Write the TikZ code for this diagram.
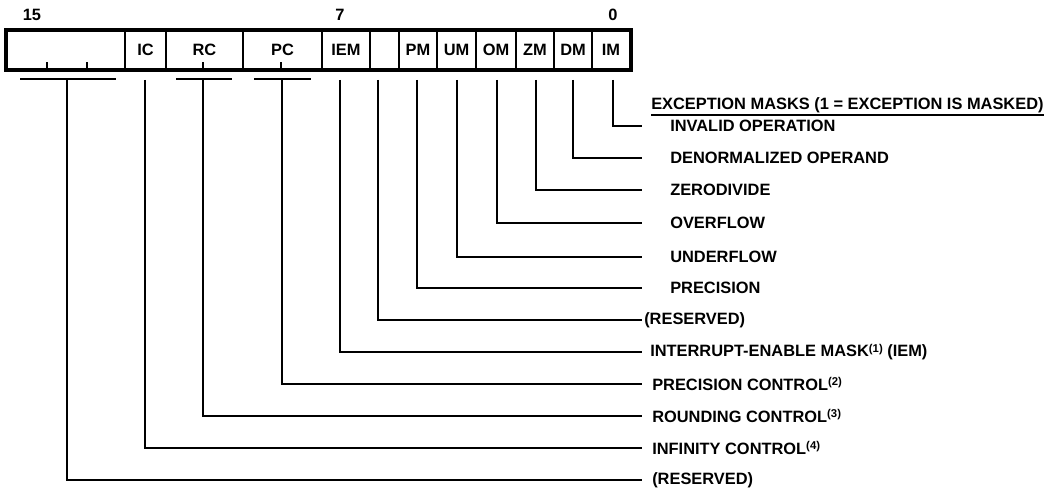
\documentclass[tikz,border=0pt]{standalone}
\usepackage{fontspec}
\setmainfont{Liberation Sans}
\usetikzlibrary{calc}
\newcommand{\lblfont}{\bfseries\fontsize{12.3}{14}\selectfont}
\newcommand{\supn}[1]{{\fontsize{8.5}{9}\selectfont\raisebox{3.2pt}{#1}}}
\begin{document}
\begin{tikzpicture}[x=0.75pt,y=-0.75pt,
  cell/.style={draw,line width=1.5pt,minimum height=28.5pt,inner sep=0pt,font=\lblfont},
  conn/.style={draw,line width=1.4pt},
  lbl/.style={anchor=west,inner sep=0pt,font=\lblfont},
  bitno/.style={inner sep=0pt,font=\lblfont}]
\useasboundingbox (0,0) rectangle (1053,491);
% bit numbers
\node[bitno] (n15) at (32,15) {15};
\node[bitno] (n7) at (340,15) {7};
\node[bitno] (n0) at (613,15) {0};
% cells
\node[cell,minimum width=88.5pt] (cRes) at (66,50) {};
\node[cell,minimum width=30.75pt] (cIC) at (145.5,50) {IC};
\node[cell,minimum width=57.75pt] (cRC) at (204.5,50) {RC};
\node[cell,minimum width=59.25pt] (cPC) at (282.5,50) {PC};
\node[cell,minimum width=36pt] (cIEM) at (346,50) {IEM};
\node[cell,minimum width=21.75pt] (cBl) at (384.5,50) {};
\node[cell,minimum width=28.5pt] (cPM) at (418,50) {PM};
\node[cell,minimum width=29.25pt] (cUM) at (456.5,50) {UM};
\node[cell,minimum width=30pt] (cOM) at (496,50) {OM};
\node[cell,minimum width=28.5pt] (cZM) at (535,50) {ZM};
\node[cell,minimum width=28.5pt] (cDM) at (573,50) {DM};
\node[cell,minimum width=28.5pt] (cIM) at (611,50) {IM};
\draw[line width=2.3pt] (cRes.north west) rectangle (cIM.south east);
% ticks inside fields
\draw[line width=1.4pt] (47,69) -- (47,62.5);
\draw[line width=1.4pt] (87,69) -- (87,62.5);
\draw[line width=1.4pt] (203,69) -- (203,62.5);
\draw[line width=1.4pt] (281,69) -- (281,62.5);
% labels
\node[lbl,anchor=base west] (hdr) at (651,110) {EXCEPTION MASKS (1 = EXCEPTION IS MASKED)};
\draw[line width=1.1pt] ([yshift=-3.9pt]hdr.base west) -- ([yshift=-3.9pt]hdr.base east);
\node[lbl] (lIM) at (670,126) {INVALID OPERATION};
\node[lbl] (lDM) at (670,158) {DENORMALIZED OPERAND};
\node[lbl] (lZM) at (670,190) {ZERODIVIDE};
\node[lbl] (lOM) at (670,223) {OVERFLOW};
\node[lbl] (lUM) at (670,257) {UNDERFLOW};
\node[lbl] (lPM) at (670,288) {PRECISION};
\node[lbl] (lBl) at (644,320) {(RESERVED)};
\node[lbl] (lIEM) at (650,352) {INTERRUPT-ENABLE MASK\supn{(1)} (IEM)};
\node[lbl] (lPC) at (652,384) {PRECISION CONTROL\supn{(2)}};
\node[lbl] (lRC) at (652,416) {ROUNDING CONTROL\supn{(3)}};
\node[lbl] (lIC) at (652,448) {INFINITY CONTROL\supn{(4)}};
\node[lbl] (lRes) at (652,480) {(RESERVED)};
% connector start points
\coordinate (tIM) at (613,80);
\coordinate (tDM) at (573,80);
\coordinate (tZM) at (536,80);
\coordinate (tOM) at (497,80);
\coordinate (tUM) at (457,80);
\coordinate (tPM) at (417,80);
\coordinate (tBl) at (378,80);
\coordinate (tIEM) at (340,80);
\coordinate (tPC) at (282,79);
\coordinate (tRC) at (203,79);
\coordinate (tIC) at (145,80);
\coordinate (tRes) at (67,79);
% brackets
\coordinate (bResL) at (20,79); \coordinate (bResR) at (116,79);
\coordinate (bRCL) at (176,79); \coordinate (bRCR) at (232,79);
\coordinate (bPCL) at (254,79); \coordinate (bPCR) at (311,79);
\draw[conn] (bResL) -- (bResR);
\draw[conn] (bRCL) -- (bRCR);
\draw[conn] (bPCL) -- (bPCR);
% connectors
\draw[conn] (tIM) |- ([xshift=-21pt]lIM.west);
\draw[conn] (tDM) |- ([xshift=-21pt]lDM.west);
\draw[conn] (tZM) |- ([xshift=-21pt]lZM.west);
\draw[conn] (tOM) |- ([xshift=-21pt]lOM.west);
\draw[conn] (tUM) |- ([xshift=-21pt]lUM.west);
\draw[conn] (tPM) |- ([xshift=-21pt]lPM.west);
\draw[conn] (tBl) |- ([xshift=-1.5pt]lBl.west);
\draw[conn] (tIEM) |- ([xshift=-6pt]lIEM.west);
\draw[conn] (tPC) |- ([xshift=-7.5pt]lPC.west);
\draw[conn] (tRC) |- ([xshift=-7.5pt]lRC.west);
\draw[conn] (tIC) |- ([xshift=-7.5pt]lIC.west);
\draw[conn] (tRes) |- ([xshift=-7.5pt]lRes.west);
\end{tikzpicture}
\end{document}
